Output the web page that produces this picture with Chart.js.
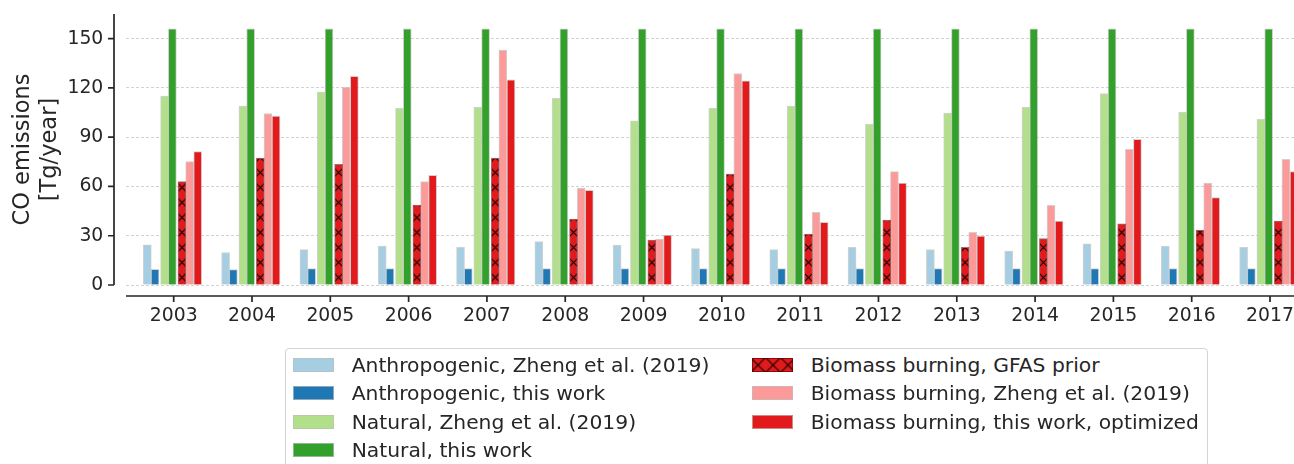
<!DOCTYPE html>
<html>
<head>
<meta charset="utf-8">
<script src="https://cdn.jsdelivr.net/npm/chart.js@4.4.1/dist/chart.umd.min.js"></script>
<style>
  html, body { margin: 0; padding: 0; background: #fff; overflow: hidden; }
  #wrap { position: relative; width: 1294px; height: 464px; overflow: hidden; }
  #plot { position: absolute; left: 0; top: 0; }
  #legend {
    position: absolute; left: 285px; top: 348px; width: 923px; height: 140px;
    border: 1px solid #d4d4d4; border-radius: 4px; box-sizing: border-box; background: #fff;
    font-family: 'DejaVu Sans', sans-serif; font-size: 20.3px; color: #262626;
  }
  .item { position: absolute; height: 28px; display: flex; align-items: center; white-space: nowrap; }
  .item canvas { display: block; margin-right: 18px; }
</style>
</head>
<body>
<div id="wrap">
  <canvas id="plot" width="1330" height="340"></canvas>
  <div id="legend"></div>
</div>
<script>
// Yearly CO emissions (Tg/year)
const years = [2003, 2004, 2005, 2006, 2007, 2008, 2009, 2010, 2011, 2012, 2013, 2014, 2015, 2016, 2017];

const anthroZheng      = [24.5, 19.8, 21.5, 23.7, 22.9, 26.5, 24.3, 22.1, 21.5, 22.9, 21.5, 20.6, 25.1, 23.7, 22.9];
const anthroThisWork   = [9.5, 9.4, 10.0, 10.0, 10.0, 10.0, 10.0, 10.0, 10.0, 10.0, 10.0, 10.0, 10.0, 10.0, 10.0];
const naturalZheng     = [115.1, 109.0, 117.4, 107.6, 108.2, 113.7, 99.9, 107.6, 109.0, 97.9, 104.6, 108.2, 116.6, 105.2, 100.9];
const naturalThisWork  = [156, 156, 156, 156, 156, 156, 156, 156, 156, 156, 156, 156, 156, 156, 156];
const biomassGfasPrior = [62.9, 77.3, 73.5, 48.7, 77.3, 40.1, 27.3, 67.6, 31.0, 39.5, 22.9, 28.2, 37.3, 33.4, 38.9];
const biomassZheng     = [75.1, 104.4, 120.4, 62.9, 143.0, 59.0, 27.9, 128.8, 44.2, 69.0, 32.0, 48.5, 82.6, 62.1, 76.5];
const biomassOptimized = [81.2, 102.9, 127.1, 66.8, 124.9, 57.6, 30.4, 124.3, 38.1, 62.1, 29.8, 38.9, 88.7, 53.2, 69.0];

const yTicks = [0, 30, 60, 90, 120, 150];

const seriesLabels = [
  'Anthropogenic, Zheng et al. (2019)',
  'Anthropogenic, this work',
  'Natural, Zheng et al. (2019)',
  'Natural, this work',
  'Biomass burning, GFAS prior',
  'Biomass burning, Zheng et al. (2019)',
  'Biomass burning, this work, optimized'
];

// Layout of bars inside each year group (in year units) and styling
const barOffsets = [-0.337, -0.238, -0.116, -0.017, 0.106, 0.204, 0.307];
const seriesColors = ['#a6cee3', '#1f78b4', '#b2df8a', '#33a02c', '#e31a1c', '#fb9a99', '#e31a1c'];
const TEXT = '#262626';
const FONT = "'DejaVu Sans', sans-serif";
const HATCH = 14.5;

function hatchTile(size, fill) {
  const c = document.createElement('canvas');
  c.width = c.height = Math.round(size);
  const s = c.width;
  const g = c.getContext('2d');
  g.fillStyle = fill;
  g.fillRect(0, 0, s, s);
  g.strokeStyle = 'rgba(0,0,0,0.9)';
  g.lineWidth = 1.2;
  g.beginPath();
  for (let k = -1; k <= 1; k++) {
    g.moveTo(k * s, 0); g.lineTo(k * s + s, s);       // "\" strokes
    g.moveTo(k * s, s); g.lineTo(k * s + s, 0);       // "/" strokes
  }
  g.stroke();
  return c;
}
const tile = hatchTile(HATCH, '#e31a1c');

// crosshatch centred on each bar
function hatchFill(ctx) {
  const chart = ctx.chart;
  const pat = chart.ctx.createPattern(tile, 'repeat');
  const xs = chart.scales && chart.scales.x;
  if (ctx.type === 'data' && xs && ctx.parsed) {
    const cx = xs.getPixelForValue(ctx.parsed.x);
    pat.setTransform(new DOMMatrix([1, 0, 0, 1, cx - tile.width / 2, 0]));
  }
  return pat;
}

const seriesValues = [anthroZheng, anthroThisWork, naturalZheng, naturalThisWork,
                      biomassGfasPrior, biomassZheng, biomassOptimized];

const datasets = seriesValues.map((vals, k) => ({
  label: seriesLabels[k],
  data: years.map((yr, i) => ({ x: yr + barOffsets[k], y: vals[i] })),
  backgroundColor: k === 4 ? hatchFill : seriesColors[k],
  borderColor: k === 4 ? 'rgba(70,0,0,0.55)' : 'rgba(190,190,190,0.7)',
  borderWidth: 1,
  borderSkipped: 'start',
  barThickness: 8,
  grouped: false
}));

// spines drawn a little away from the plotting area, with outward ticks
const offsetSpines = {
  id: 'offsetSpines',
  afterDraw(chart) {
    const { ctx, chartArea: a, scales: { x, y } } = chart;
    ctx.save();
    ctx.strokeStyle = TEXT;
    ctx.lineWidth = 1.7;
    const sx = a.left - 12;
    const sy = a.bottom + 11;
    ctx.beginPath();
    ctx.moveTo(sx, a.top); ctx.lineTo(sx, a.bottom);
    yTicks.forEach(v => { const p = y.getPixelForValue(v); ctx.moveTo(sx, p); ctx.lineTo(sx - 6, p); });
    ctx.moveTo(a.left, sy); ctx.lineTo(a.right, sy);
    years.forEach(v => { const p = x.getPixelForValue(v); ctx.moveTo(p, sy); ctx.lineTo(p, sy + 6); });
    ctx.stroke();
    ctx.restore();
  }
};

function fixBox(size, dim) {
  return s => {
    s[dim] = size;
    s.paddingTop = 0; s.paddingBottom = 0; s.paddingLeft = 0; s.paddingRight = 0;
  };
}

const chart = new Chart(document.getElementById('plot'), {
  type: 'bar',
  data: { datasets },
  plugins: [offsetSpines],
  options: {
    responsive: false,
    animation: false,
    layout: { padding: { left: 0, right: 12.3, top: 14, bottom: 0 } },
    plugins: { legend: { display: false }, tooltip: { enabled: false } },
    scales: {
      x: {
        type: 'linear',
        min: 2002.391,
        max: 2017.609,
        offset: false,
        afterBuildTicks: axis => { axis.ticks = years.map(v => ({ value: v })); },
        afterFit: fixBox(55, 'height'),
        grid: { display: false, drawTicks: false },
        border: { display: false },
        ticks: {
          autoSkip: false, maxRotation: 0, padding: 19.5, color: TEXT,
          font: { family: FONT, size: 18.8 },
          callback: v => String(v)
        }
      },
      y: {
        min: 0,
        max: 165,
        afterBuildTicks: axis => { axis.ticks = yTicks.map(v => ({ value: v })); },
        afterFit: fixBox(126, 'width'),
        grid: { color: '#d2d2d2', lineWidth: 1, drawTicks: false },
        border: { display: false, dash: [3, 2] },
        ticks: { padding: 22.7, color: TEXT, font: { family: FONT, size: 18.8 } },
        title: {
          display: true,
          text: ['CO emissions', '[Tg/year]'],
          color: TEXT,
          font: { family: FONT, size: 22.5 },
          padding: { top: 10, bottom: 0 }
        }
      }
    }
  }
});

// two-column legend built from the chart's datasets
const legendEl = document.getElementById('legend');
chart.data.datasets.forEach((ds, i) => {
  const col = i < 4 ? 0 : 1;
  const row = i < 4 ? i : i - 4;
  const item = document.createElement('div');
  item.className = 'item';
  item.style.left = (col === 0 ? 6.7 : 465.7) + 'px';
  item.style.top = (2 + row * 28.4) + 'px';
  const sw = document.createElement('canvas');
  sw.width = 41; sw.height = 14;
  const g = sw.getContext('2d');
  if (i === 4) {
    const pat = g.createPattern(tile, 'repeat');
    pat.setTransform(new DOMMatrix([1, 0, 0, 1, 6 - tile.width / 2, 7 - tile.height / 2]));
    g.fillStyle = pat;
  } else {
    g.fillStyle = seriesColors[i];
  }
  g.fillRect(0, 0, 41, 14);
  g.strokeStyle = i === 4 ? 'rgba(70,0,0,0.55)' : 'rgba(190,190,190,0.7)';
  g.lineWidth = 1;
  g.strokeRect(0.5, 0.5, 40, 13);
  const txt = document.createElement('span');
  txt.textContent = ds.label;
  item.appendChild(sw);
  item.appendChild(txt);
  legendEl.appendChild(item);
});
</script>
</body>
</html>
